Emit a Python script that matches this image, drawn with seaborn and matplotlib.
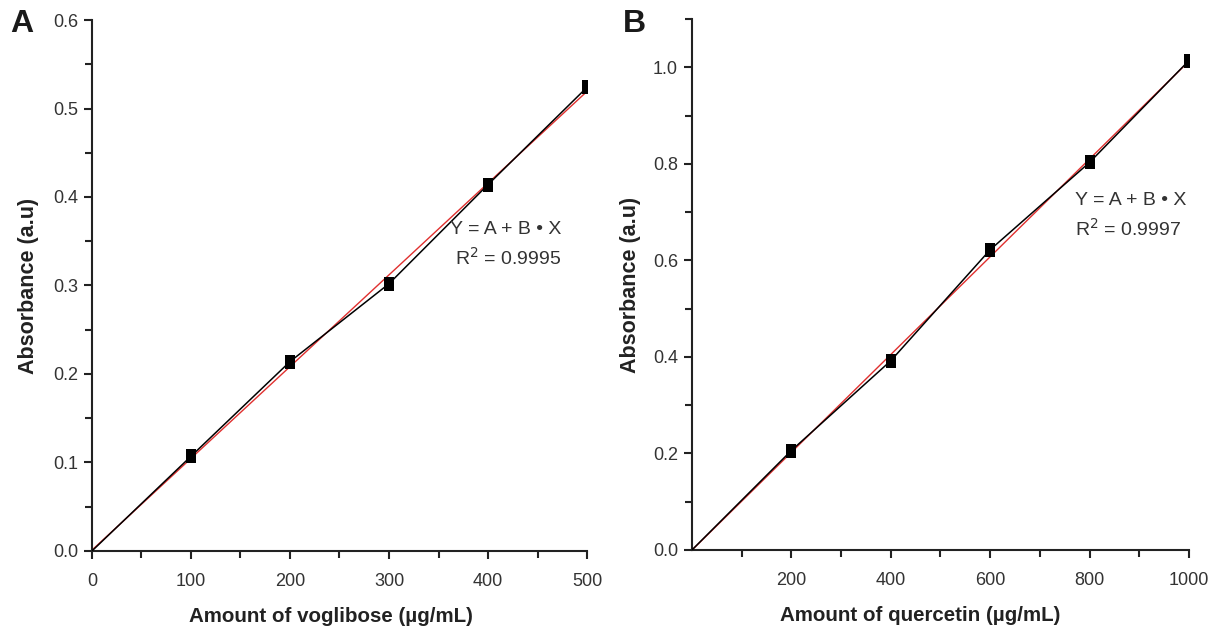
import numpy as np
import pandas as pd
import matplotlib
matplotlib.use("Agg")
import matplotlib.pyplot as plt
from matplotlib.ticker import MultipleLocator
import seaborn as sns

# Calibration data
voglibose_conc = [0, 100, 200, 300, 400, 500]
voglibose_abs = [0.0, 0.107, 0.214, 0.302, 0.414, 0.524]

quercetin_conc = [0, 200, 400, 600, 800, 1000]
quercetin_abs = [0.0, 0.206, 0.392, 0.622, 0.803, 1.014]

r2_labels = ["0.9995", "0.9997"]

sns.set_theme(style="ticks")
plt.rcParams["font.family"] = ["Liberation Sans", "DejaVu Sans"]

fig = plt.figure(figsize=(12.21, 6.31), dpi=100)
axA = fig.add_axes([0.0753, 0.1268, 0.4055, 0.8415])
axB = fig.add_axes([0.5667, 0.1284, 0.4071, 0.8415])

rect = [(-0.33, -0.5), (0.33, -0.5), (0.33, 0.5), (-0.33, 0.5), (-0.33, -0.5)]
ink = "#222222"


def draw(ax, x, y):
    df = pd.DataFrame({"x": x, "y": y})
    sns.regplot(data=df, x="x", y="y", ax=ax, scatter=False, ci=None,
                line_kws=dict(color="#e0302f", lw=1.0))
    sns.lineplot(data=df, x="x", y="y", ax=ax, color="black", lw=1.1,
                 zorder=3)
    sns.scatterplot(data=df.iloc[1:], x="x", y="y", ax=ax, marker=rect,
                    s=110, color="black", edgecolor="black", linewidth=0,
                    zorder=4)
    for side in ("top", "right"):
        ax.spines[side].set_visible(False)
    for side in ("left", "bottom"):
        ax.spines[side].set_linewidth(1.5)
        ax.spines[side].set_color(ink)
    ax.tick_params(which="major", direction="out", length=6, width=1.5,
                   color=ink, labelsize=13, labelcolor="#333333", pad=4)
    ax.tick_params(axis="x", which="major", pad=10)
    ax.tick_params(which="minor", direction="out", length=5, width=1.5,
                   color=ink)
    ax.set_ylabel("Absorbance (a.u)", fontsize=15.5, fontweight="bold",
                  color="#222222")


draw(axA, voglibose_conc, voglibose_abs)
axA.set_xlim(0, 500)
axA.set_ylim(0, 0.6)
axA.xaxis.set_major_locator(MultipleLocator(100))
axA.xaxis.set_minor_locator(MultipleLocator(50))
axA.yaxis.set_major_locator(MultipleLocator(0.1))
axA.yaxis.set_minor_locator(MultipleLocator(0.05))
axA.yaxis.set_major_formatter(plt.FormatStrFormatter("%.1f"))
axA.set_xlabel("Amount of voglibose (µg/mL)", fontsize=14.8, fontweight="bold",
               color="#222222")
axA.xaxis.set_label_coords(0.483, -0.105)
axA.yaxis.set_label_coords(-0.107, 0.5)
axA.text(0.948, 0.606, "Y = A + B • X", transform=axA.transAxes, ha="right",
         va="center", fontsize=14, color="#333333")
axA.text(0.948, 0.552, "R$^2$ = " + r2_labels[0], transform=axA.transAxes,
         ha="right", va="center", fontsize=14, color="#333333")

draw(axB, quercetin_conc, quercetin_abs)
axB.set_xlim(0, 1000)
axB.set_ylim(0, 1.1)
axB.set_xticks([200, 400, 600, 800, 1000])
axB.set_xticks([100, 300, 500, 700, 900], minor=True)
axB.yaxis.set_major_locator(MultipleLocator(0.2))
axB.set_yticks([0.1, 0.3, 0.5, 0.7, 0.9, 1.1], minor=True)
axB.yaxis.set_major_formatter(plt.FormatStrFormatter("%.1f"))
axB.set_xlabel("Amount of quercetin (µg/mL)", fontsize=14.8, fontweight="bold",
               color="#222222")
axB.xaxis.set_label_coords(0.459, -0.105)
axB.yaxis.set_label_coords(-0.103, 0.5)
axB.text(0.77, 0.659, "Y = A + B • X", transform=axB.transAxes, ha="left",
         va="center", fontsize=14, color="#333333")
axB.text(0.77, 0.604, "R$^2$ = " + r2_labels[1], transform=axB.transAxes,
         ha="left", va="center", fontsize=14, color="#333333")

fig.text(0.008, 0.962, "A", fontsize=23, fontweight="bold", color="#1a1a1a",
         va="center")
fig.text(0.510, 0.962, "B", fontsize=23, fontweight="bold", color="#1a1a1a",
         va="center")

fig.savefig("out.png", dpi=100, facecolor="white")
